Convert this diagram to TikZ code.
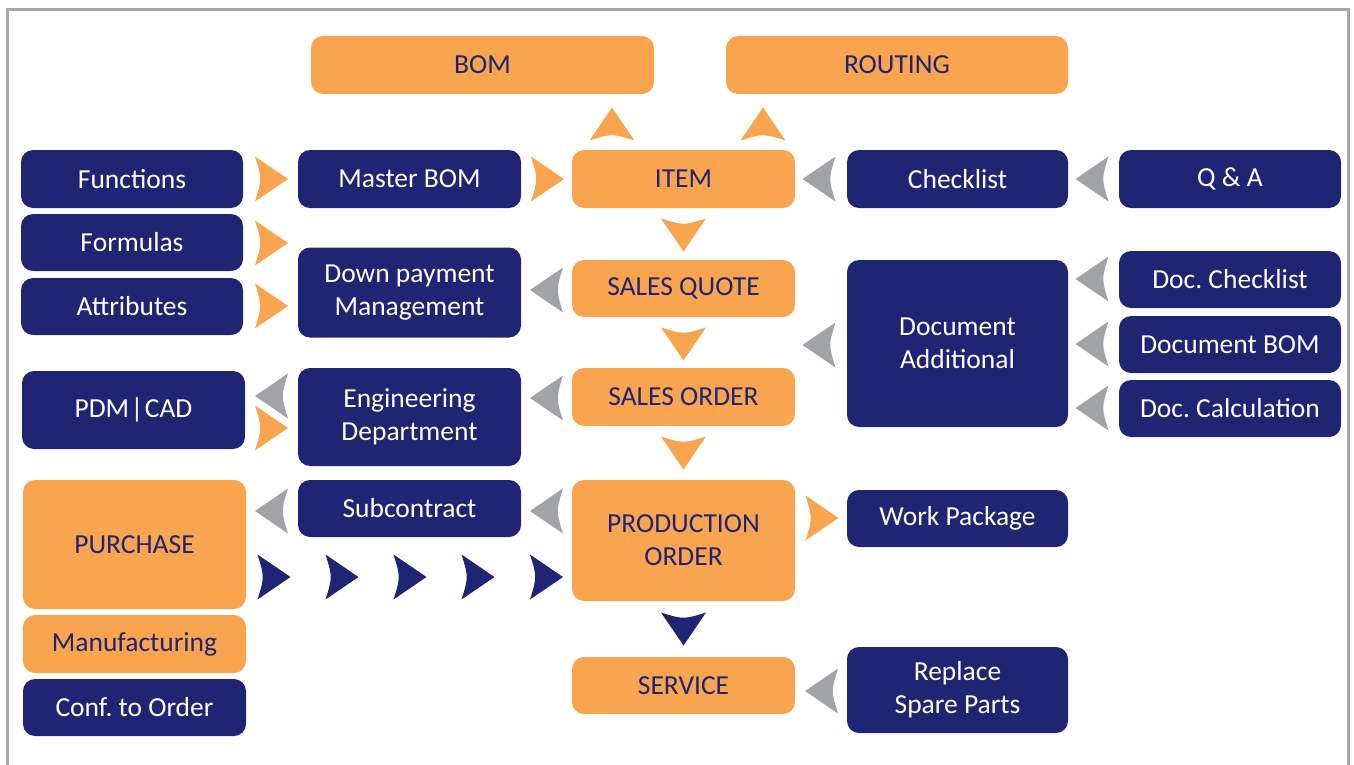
\documentclass[tikz,border=0pt]{standalone}
\usepackage{fontspec}
\setmainfont{Carlito}
\begin{document}
\frenchspacing
\begin{tikzpicture}[x=1pt,y=-1pt,
  box/.style={rounded corners=12pt, inner sep=0pt, align=center,
    font=\fontsize{27.5}{33}\selectfont, minimum width=222pt},
  nv/.style={box, fill=navyc, text=white},
  og/.style={box, fill=orangec, text=navyc},
  pics/tri/.style={code={\fill[#1] (-16.5,-22.5) .. controls (-9.5,0) .. (-16.5,22.5) -- (16.5,0) -- cycle;}}
]
\definecolor{navyc}{HTML}{1F2473}
\definecolor{orangec}{HTML}{F9A44F}
\definecolor{grayc}{HTML}{A2A3A6}
\definecolor{framec}{HTML}{A8A8A8}
\useasboundingbox (0,0) rectangle (1354,765);
\draw[framec, line width=3pt] (7.5,770) -- (7.5,9.5) -- (1348.5,9.5) -- (1348.5,770);

% top row
\node[og, minimum width=343pt, minimum height=58pt] (bom) at (482.5,65) {BOM};
\node[og, minimum width=342pt, minimum height=58pt] (routing) at (897,65) {ROUTING};
% row ITEM
\node[nv, minimum height=58pt] (func) at (132,179) {Functions};
\node[nv, minimum width=223pt, minimum height=58pt] (mbom) at (409.5,179) {Master BOM};
\node[og, minimum width=223pt, minimum height=58pt] (item) at (683.5,179) {ITEM};
\node[nv, minimum width=221pt, minimum height=58pt] (check) at (957.5,179) {Checklist};
\node[nv, minimum height=58pt] (qa) at (1230,179) {Q \& A};
% row SALES QUOTE
\node[nv, minimum height=57pt] (form) at (132,242.5) {Formulas};
\node[nv, minimum height=57pt] (attr) at (132,306.5) {Attributes};
\node[nv, minimum width=223pt, minimum height=90pt] (down) at (409.5,292.5) {Down payment\\Management};
\node[og, minimum width=223pt, minimum height=57pt] (squote) at (683.5,288.5) {SALES QUOTE};
\node[nv, minimum width=221pt, minimum height=167pt] (docadd) at (957.5,343.5) {Document\\Additional};
\node[nv, minimum height=57pt] (dchk) at (1230,279.5) {Doc. Checklist};
\node[nv, minimum height=57pt] (dbom) at (1230,344.5) {Document BOM};
\node[nv, minimum height=57pt] (dcalc) at (1230,408.5) {Doc. Calculation};
% row SALES ORDER
\node[nv, minimum width=223pt, minimum height=78pt] (pdm) at (133.5,410) {PDM{\kern1.5pt}|{\kern1.5pt}CAD};
\node[nv, minimum width=223pt, minimum height=98pt] (eng) at (409.5,417) {Engineering\\Department};
\node[og, minimum width=223pt, minimum height=58pt] (sorder) at (683.5,397) {SALES ORDER};
% row PRODUCTION ORDER
\node[nv, minimum width=223pt, minimum height=57pt] (sub) at (409.5,508.5) {Subcontract};
\node[og, minimum width=223pt, minimum height=121pt] (porder) at (683.5,540.5) {PRODUCTION\\ORDER};
\node[nv, minimum width=221pt, minimum height=57pt] (wp) at (957.5,518.5) {Work Package};
\node[og, minimum width=223pt, minimum height=129pt] (purch) at (134.5,544.5) {PURCHASE};
\node[og, minimum width=223pt, minimum height=58pt] (manu) at (134.5,644) {Manufacturing};
\node[nv, minimum width=223pt, minimum height=57pt] (conf) at (134.5,707.5) {Conf. to Order};
% row SERVICE
\node[og, minimum width=223pt, minimum height=57pt] (serv) at (683.5,685.5) {SERVICE};
\node[nv, minimum width=221pt, minimum height=86pt] (repl) at (957.5,690) {Replace\\Spare Parts};

% arrows
\pic at (271.5,179) {tri=orangec};
\pic at (547.5,179) {tri=orangec};
\pic[rotate=90] at (612,124) {tri=orangec};
\pic[rotate=90] at (763,124) {tri=orangec};
\pic[rotate=180] at (819,179) {tri=grayc};
\pic[rotate=180] at (1092,179) {tri=grayc};
\pic[rotate=-90] at (683.5,235) {tri=orangec};
\pic at (271.5,243) {tri=orangec};
\pic at (271.5,306) {tri=orangec};
\pic[rotate=180] at (546.5,290) {tri=grayc};
\pic[rotate=180] at (819,345) {tri=grayc};
\pic[rotate=180] at (1092,279) {tri=grayc};
\pic[rotate=180] at (1092,344) {tri=grayc};
\pic[rotate=180] at (1092,408) {tri=grayc};
\pic[rotate=-90] at (683.5,344) {tri=orangec};
\pic[rotate=180] at (546.5,398) {tri=grayc};
\pic[rotate=180] at (271.5,396) {tri=grayc};
\pic at (271.5,428) {tri=orangec};
\pic[rotate=-90] at (683.5,453) {tri=orangec};
\pic[rotate=180] at (546.5,511) {tri=grayc};
\pic[rotate=180] at (271.5,511) {tri=grayc};
\foreach \xx in {274,342,410,478,546.5} \pic at (\xx,577) {tri=navyc};
\pic at (822,518) {tri=orangec};
\pic[rotate=-90] at (683.5,629) {tri=navyc};
\pic[rotate=180] at (821.5,691) {tri=grayc};
\end{tikzpicture}
\end{document}
